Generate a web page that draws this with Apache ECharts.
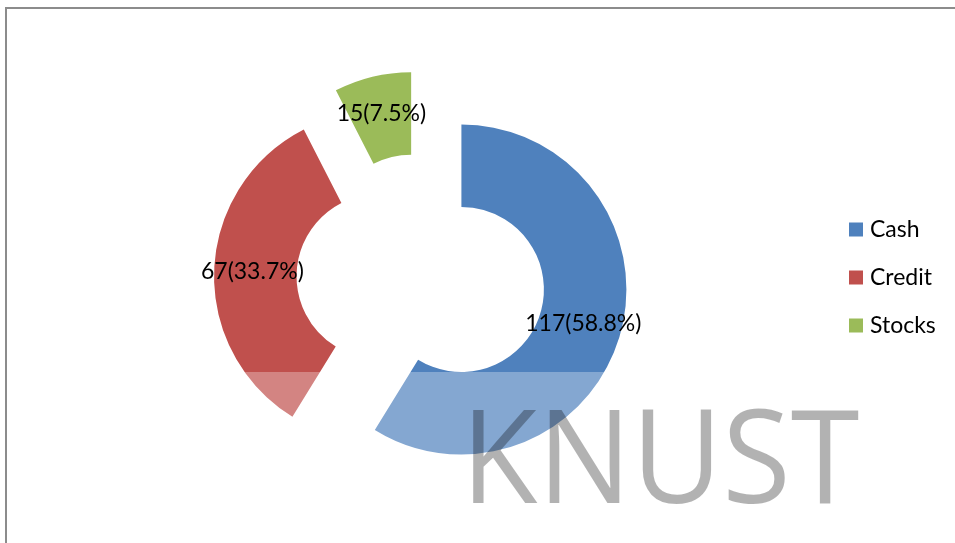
<!DOCTYPE html>
<html>
<head>
<meta charset="utf-8">
<script src="https://cdn.jsdelivr.net/npm/echarts@6/dist/echarts.min.js"></script>
<style>
  html, body { margin: 0; padding: 0; background: #fff; }
  #main { width: 955px; height: 543px; }
</style>
</head>
<body>
<div id="main"></div>
<script>
const categories = ['Cash', 'Credit', 'Stocks'];
const values = [117, 67, 15];
const colorList = ['#4f81bd', '#c0504d', '#9bbb59'];

const chart = echarts.init(document.getElementById('main'));

const pieData = categories.map((name, i) => ({
  name: name,
  value: values[i],
  selected: true,
  itemStyle: { color: colorList[i] }
}));

const option = {
  animation: false,
  color: colorList,
  legend: {
    orient: 'vertical',
    left: 849,
    top: 218,
    padding: 0,
    itemWidth: 14,
    itemHeight: 14,
    itemGap: 25,
    icon: 'rect',
    selectedMode: false,
    textStyle: {
      fontFamily: 'Lato',
      fontSize: 23,
      lineHeight: 22,
      color: '#000',
      padding: [0, 0, 0, 2]
    },
    data: categories
  },
  series: [
    {
      type: 'pie',
      center: [421, 278],
      radius: [82.5, 165],
      startAngle: 90,
      clockwise: true,
      selectedMode: 'multiple',
      selectedOffset: 42,
      percentPrecision: 1,
      avoidLabelOverlap: false,
      label: {
        show: true,
        position: 'inside',
        formatter: '{c}({d}%)',
        color: '#000',
        fontFamily: 'Lato',
        fontSize: 23,
        textBorderWidth: 0
      },
      labelLine: { show: false },
      emphasis: { disabled: true },
      select: { itemStyle: { borderWidth: 0 } },
      data: pieData
    }
  ],
  graphic: [
    {
      type: 'rect',
      z: 100,
      silent: true,
      shape: { x: 6, y: 8, width: 1000, height: 1000 },
      style: { fill: 'none', stroke: '#8c8c8c', lineWidth: 2 }
    },
    {
      type: 'rect',
      z: 50,
      silent: true,
      shape: { x: 200, y: 372, width: 700, height: 180 },
      style: { fill: 'rgba(255,255,255,0.3)' }
    },
    {
      type: 'text',
      z: 51,
      silent: true,
      x: 461,
      y: 531,
      scaleX: 0.96,
      style: {
        text: 'KNUST',
        fontFamily: 'Open Sans',
        fontSize: 130,
        fill: 'rgba(0,0,0,0.3)',
        verticalAlign: 'bottom'
      }
    }
  ]
};

chart.setOption(option);
</script>
</body>
</html>
